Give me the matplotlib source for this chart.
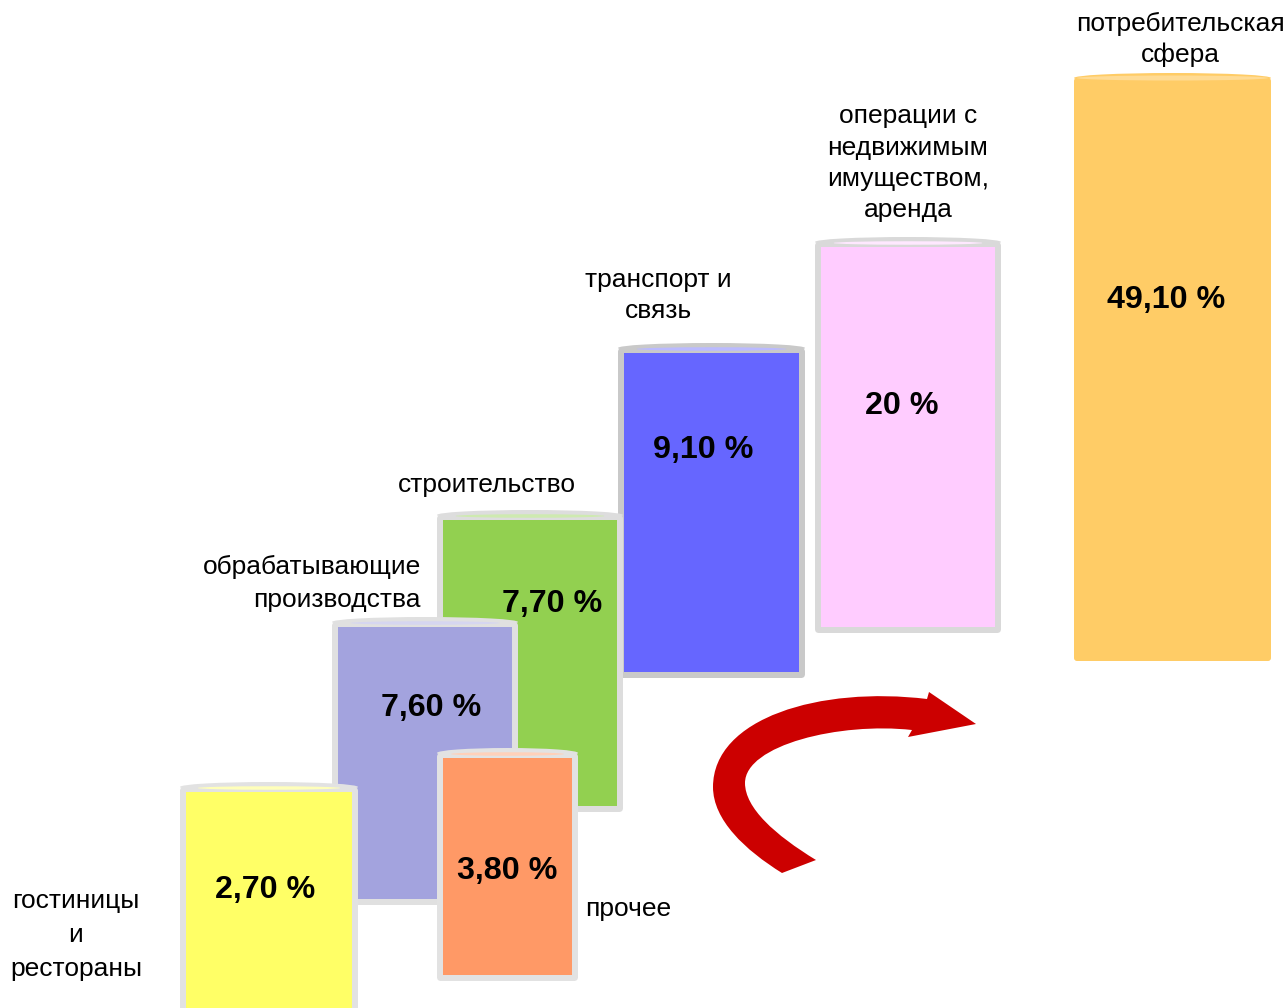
import matplotlib
matplotlib.use("Agg")
import matplotlib.pyplot as plt
from matplotlib.patches import Rectangle, Ellipse, FancyBboxPatch, PathPatch
from matplotlib.path import Path

plt.rcParams['font.family'] = ['Liberation Sans', 'DejaVu Sans']

# ---- data ----
categories = ['гостиницы\nи\nрестораны', 'обрабатывающие\nпроизводства', 'строительство',
              'прочее', 'транспорт и\nсвязь', 'операции с\nнедвижимым\nимуществом,\nаренда',
              'потребительская\nсфера']
values = [2.7, 7.6, 7.7, 3.8, 9.1, 20, 49.1]
fill_colors = ['#FFFF66', '#A3A3DE', '#92D050', '#FF9966', '#6666FF', '#FFCCFF', '#FFCC66']
edge_colors = ['#E2E2E2', '#E0E0E0', '#DDDDDD', '#E2E2E2', '#C9C9C9', '#D9D9D9', None]

# ---- layout (pixel coordinates) ----
x_left = [180, 332, 437, 437, 618, 815, 1074]
x_right = [358, 518, 623, 578, 805, 1001, 1271]
y_top = [782, 617, 510, 748, 343, 237, 73]
y_bottom = [1020, 905, 812, 981, 678, 633, 661]
zorders = [6, 4, 3, 5, 2, 1, 1]
val_xy = [(265, 898), (431, 716), (552, 612), (507, 879), (703, 458), (902, 414), (1166, 308)]
lab_x = [76, 421, 487, 585, 658, 908, 1180]
lab_ha = ['center', 'right', 'center', 'left', 'center', 'center', 'center']
lab_y0 = [908, 574, 492, 916, 287, 123, 31]
lab_pitch = [34, 33, 32, 32, 31, 31.5, 31]

W, H = 1287, 1008
fig = plt.figure(figsize=(W / 100, H / 100), dpi=100)
ax = fig.add_axes([0, 0, 1, 1])
ax.set_xlim(0, W)
ax.set_ylim(H, 0)
ax.axis('off')


def lighten(c, f):
    import matplotlib.colors as mc
    r, g, b = mc.to_rgb(c)
    return (r + (1 - r) * f, g + (1 - g) * f, b + (1 - b) * f)


def cylinder(x0, x1, yt, yb, fill, edge, z, bw=6, cap=10):
    cx = (x0 + x1) / 2
    w = x1 - x0
    if edge is None:
        ax.add_patch(FancyBboxPatch((x0, yt + cap / 2), w, yb - yt - cap / 2,
                                    boxstyle='round,pad=0,rounding_size=3',
                                    fc=fill, ec='none', zorder=z))
        ax.add_patch(Ellipse((cx, yt + cap / 2), w, cap, fc=fill, ec='none', zorder=z))
        ax.add_patch(Ellipse((cx, yt + cap / 2), w * 0.97, cap * 0.5,
                             fc=lighten(fill, 0.3), ec='none', zorder=z))
        return
    ax.add_patch(FancyBboxPatch((x0, yt + cap / 2), w, yb - yt - cap / 2,
                                boxstyle='round,pad=0,rounding_size=4',
                                fc=edge, ec='none', zorder=z))
    ax.add_patch(Ellipse((cx, yt + cap / 2), w, cap, fc=edge, ec='none', zorder=z))
    ax.add_patch(Ellipse((cx, yt + cap / 2 + 1), w * 0.8, cap * 0.35,
                         fc=lighten(fill, 0.55), ec='none', zorder=z))
    ax.add_patch(Rectangle((x0 + bw, yt + cap), w - 2 * bw, yb - bw - yt - cap,
                           fc=fill, ec='none', zorder=z))


def fmt(v):
    if float(v).is_integer():
        return f"{int(v)} %"
    return f"{v:.2f}".replace('.', ',') + " %"


for i in range(len(values)):
    cylinder(x_left[i], x_right[i], y_top[i], y_bottom[i], fill_colors[i], edge_colors[i], zorders[i])
    ax.text(val_xy[i][0], val_xy[i][1], fmt(values[i]), ha='center', va='baseline',
            fontsize=23.2, fontweight='bold', color='black', zorder=zorders[i] + 0.5)
    for j, line in enumerate(categories[i].split('\n')):
        ax.text(lab_x[i], lab_y0[i] + j * lab_pitch[i], line, ha=lab_ha[i], va='baseline',
                fontsize=19, color='black', zorder=10)

# ---- curved red arrow ----
verts = [
    (927, 699),
    (820, 686), (713, 718), (713, 787),
    (713, 820), (745, 850), (782, 873),
    (816, 860),
    (775, 835), (745, 808), (745, 783),
    (745, 745), (840, 722), (912, 730),
    (908, 737), (976, 724), (929, 692), (927, 699),
]
codes = [Path.MOVETO,
         Path.CURVE4, Path.CURVE4, Path.CURVE4,
         Path.CURVE4, Path.CURVE4, Path.CURVE4,
         Path.LINETO,
         Path.CURVE4, Path.CURVE4, Path.CURVE4,
         Path.CURVE4, Path.CURVE4, Path.CURVE4,
         Path.LINETO, Path.LINETO, Path.LINETO, Path.CLOSEPOLY]
ax.add_patch(PathPatch(Path(verts, codes), fc='#CC0000', ec='none', zorder=8))

fig.savefig('out.png', dpi=100)
